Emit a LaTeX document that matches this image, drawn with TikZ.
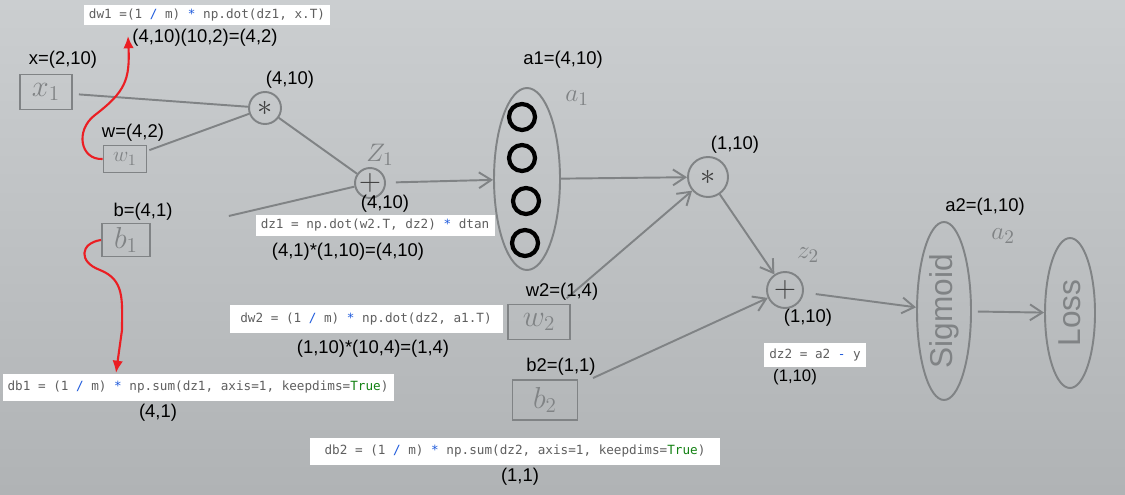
\documentclass[tikz,border=0pt]{standalone}
\usepackage{fontspec}
\setmainfont{Liberation Sans}
\setmonofont{DejaVu Sans Mono}
\usetikzlibrary{shapes.geometric,arrows.meta}

\definecolor{paperlight}{RGB}{203,206,208}
\definecolor{paperdark}{RGB}{176,179,181}
\definecolor{pencil}{RGB}{128,131,133}
\definecolor{redpen}{RGB}{235,30,35}
\definecolor{codegray}{RGB}{95,95,95}
\definecolor{codeblue}{RGB}{30,90,220}
\definecolor{codegreen}{RGB}{20,130,20}

\def\px{0.02cm}

\tikzset{
	pencil/.style={draw=pencil,line width=1.1pt},
	pencilarrow/.style={pencil,-{Straight Barb[length=7pt,width=9pt]}},
	varbox/.style={pencil,rectangle,inner sep=0pt,text=pencil,font=\fontsize{17}{17}\selectfont},
	opnode/.style={pencil,circle,inner sep=0pt,text=black!75,font=\fontsize{17}{17}\selectfont},
	layer/.style={pencil,ellipse,inner sep=0pt,text=pencil,font=\fontsize{18}{18}\selectfont},
	neuron/.style={draw=black,circle,line width=2.4pt,minimum size=26*\px,inner sep=0pt},
	dimtext/.style={font=\fontsize{10.5}{10.5}\selectfont},
	hand/.style={text=pencil,font=\fontsize{15}{15}\selectfont},
	codebox/.style={fill=white,inner sep=0pt,font=\fontsize{7.2}{7.2}\selectfont\ttfamily,text=codegray},
	redpath/.style={draw=redpen,line width=1.2pt,-{Latex[length=7pt,width=6pt]}},
}

\begin{document}
\begin{tikzpicture}[x=\px,y=-\px]

	\useasboundingbox (0,0) rectangle (1125,494);
	\shade[top color=paperlight,bottom color=paperdark] (0,0) rectangle (1125,494);

	% first layer
	\node[varbox,minimum width=52*\px,minimum height=35*\px] (x1) at (46,92) {$x_1$};
	\node[varbox,font=\fontsize{13}{13}\selectfont,minimum width=43*\px,minimum height=27*\px] (w1) at (125,159) {$w_1$};
	\node[varbox,minimum width=48*\px,minimum height=33*\px] (b1) at (126,240) {$b_1$};

	\node[opnode,minimum size=32*\px] (mul1) at (265,108) {$*$};
	\node[opnode,minimum size=30*\px] (add1) at (370,183) {$+$};

	\node[layer,minimum width=66*\px,minimum height=182*\px] (a1) at (527,179) {};
	\node[neuron] (n1) at (522,117) {};
	\node[neuron] (n2) at (522,158) {};
	\node[neuron] (n3) at (526,201) {};
	\node[neuron] (n4) at (525,243) {};

	% second layer
	\node[varbox,minimum width=62*\px,minimum height=35*\px] (w2) at (539,322) {$w_2$};
	\node[varbox,minimum width=65*\px,minimum height=40*\px] (b2) at (545,400) {$b_2$};

	\node[opnode,minimum size=40*\px] (mul2) at (708,177) {$*$};
	\node[opnode,minimum size=36*\px] (add2) at (785,290) {$+$};

	\node[layer,rotate=90,minimum width=178*\px,minimum height=54*\px] (sig) at (944,311) {Sigmoid};
	\node[layer,rotate=90,minimum width=150*\px,minimum height=50*\px] (loss) at (1070,313) {Loss};

	% handwritten names
	\node[hand] (z1name) at (380,155) {$Z_1$};
	\node[hand] (a1name) at (577,98) {$a_1$};
	\node[hand] (z2name) at (808,255) {$z_2$};
	\node[hand] (a2name) at (1003,236) {$a_2$};

	\draw[pencil,shorten <=6*\px] (x1) -- (mul1);
	\draw[pencil,shorten <=2*\px] (w1) -- (mul1);
	\draw[pencil] (mul1) -- (add1);
	\draw[pencil,shorten <=80*\px] (b1) -- (add1);
	\draw[pencilarrow,shorten <=10*\px] (add1) -- (a1);
	\draw[pencilarrow] (a1) -- (mul2);
	\draw[pencilarrow,shorten <=8*\px] (w2) -- (mul2);
	\draw[pencilarrow] (mul2) -- (add2);
	\draw[pencilarrow,shorten <=16*\px] (b2) -- (add2);
	\draw[pencilarrow,shorten <=12*\px] (add2) -- (sig);
	\draw[pencilarrow,shorten <=6*\px] (sig) -- (loss);

	% shapes
	\node[dimtext] (xdim) at (63,60) {x=(2,10)};
	\node[dimtext] (wdim) at (133,133) {w=(4,2)};
	\node[dimtext] (bdim) at (143,212) {b=(4,1)};
	\node[dimtext] (mul1dim) at (290,80) {(4,10)};
	\node[dimtext] (add1dim) at (385,204) {(4,10)};
	\node[dimtext] (a1dim) at (563,60) {a1=(4,10)};
	\node[dimtext] (mul2dim) at (735,145) {(1,10)};
	\node[dimtext] (w2dim) at (562,292) {w2=(1,4)};
	\node[dimtext] (b2dim) at (561,367) {b2=(1,1)};
	\node[dimtext] (add2dim) at (808,318) {(1,10)};
	\node[dimtext] (a2dim) at (985,207) {a2=(1,10)};

	% gradients
	\node[codebox,minimum width=246*\px,minimum height=20*\px] (dw1) at (207,15)
		{dw1 =(1 \textcolor{codeblue}{/} m) \textcolor{codeblue}{*} np.dot(dz1, x.T)};
	\node[dimtext] (dw1dim) at (205,38) {(4,10)(10,2)=(4,2)};
	\node[codebox,minimum width=239*\px,minimum height=21*\px] (dz1) at (375,225)
		{dz1 = np.dot(w2.T, dz2) \textcolor{codeblue}{*} dtan};
	\node[dimtext] (dz1dim) at (348,252) {(4,1)*(1,10)=(4,10)};
	\node[codebox,minimum width=273*\px,minimum height=28*\px] (dw2) at (366,319)
		{dw2 = (1 \textcolor{codeblue}{/} m) \textcolor{codeblue}{*} np.dot(dz2, a1.T)};
	\node[dimtext] (dw2dim) at (373,349) {(1,10)*(10,4)=(1,4)};
	\node[codebox,minimum width=391*\px,minimum height=27*\px] (db1) at (198,387)
		{db1 = (1 \textcolor{codeblue}{/} m) \textcolor{codeblue}{*} np.sum(dz1, axis=1, keepdims=\textcolor{codegreen}{True})};
	\node[dimtext] (db1dim) at (158,413) {(4,1)};
	\node[codebox,minimum width=410*\px,minimum height=27*\px] (db2) at (515,451)
		{db2 = (1 \textcolor{codeblue}{/} m) \textcolor{codeblue}{*} np.sum(dz2, axis=1, keepdims=\textcolor{codegreen}{True})};
	\node[dimtext] (db2dim) at (520,477) {(1,1)};
	\node[codebox,minimum width=102*\px,minimum height=24*\px] (dz2) at (815,355)
		{dz2 = a2 \textcolor{codeblue}{-} y};
	\node[dimtext,font=\fontsize{9.5}{9.5}\selectfont] (dz2dim) at (795,377) {(1,10)};

	% red hints
	\coordinate (dw1tip) at (128,36);
	\coordinate (db1tip) at (116,373);
	\draw[redpath] (w1.west) .. controls (80,160) and (75,130) .. (95,115)
		.. controls (125,92) and (130,80) .. (dw1tip);
	\draw[redpath] (b1.west) .. controls (80,243) and (78,262) .. (100,270)
		.. controls (125,280) and (122,300) .. (122,330) -- (db1tip);

\end{tikzpicture}
\end{document}
